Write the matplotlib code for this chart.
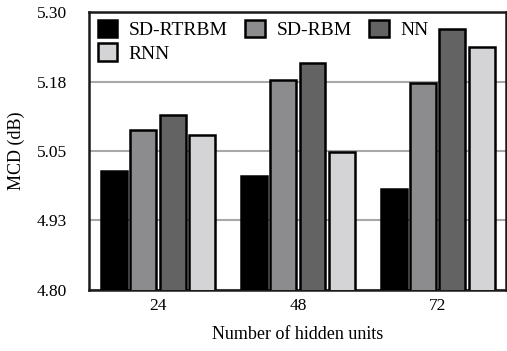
import numpy as np
import matplotlib
matplotlib.use("Agg")
import matplotlib.pyplot as plt

plt.rcParams['font.family'] = ['Liberation Serif', 'DejaVu Serif']

# data
hidden = ["24", "48", "72"]
series = ["SD-RTRBM", "SD-RBM", "NN", "RNN"]
sd_rtrbm = [5.014, 5.005, 4.982]
sd_rbm = [5.088, 5.178, 5.172]
nn = [5.115, 5.209, 5.270]
rnn = [5.078, 5.049, 5.237]
yticks = [4.80, 4.925, 5.05, 5.175, 5.30]
ytick_labels = ["4.80", "4.93", "5.05", "5.18", "5.30"]

colors = ["#000000", "#8c8c8e", "#636363", "#d4d4d6"]

fig = plt.figure(figsize=(5.07, 3.51), dpi=100)
ax = fig.add_axes([0.1755, 0.1738, 0.822, 0.792])

x = np.arange(len(hidden))
pitch = 0.21
w = 0.185
bars = []
for j, vals in enumerate([sd_rtrbm, sd_rbm, nn, rnn]):
    b = ax.bar(x + (j - 1.5) * pitch, vals, w, bottom=0, color=colors[j],
               edgecolor="black", linewidth=1.8, label=series[j], zorder=3)
    bars.append(b)

ax.set_ylim(4.80, 5.30)
ax.set_xlim(-0.493, 2.486)
ax.set_yticks(yticks)
ax.set_yticklabels(ytick_labels)
ax.set_xticks(x)
ax.set_xticklabels(hidden)
ax.tick_params(axis="both", length=0, labelsize=12.5)
ax.tick_params(axis="y", pad=16)
ax.tick_params(axis="x", pad=5.5)
ax.yaxis.grid(True, color="#a8a8a8", linewidth=1.5, zorder=0)
ax.set_axisbelow(True)
for s in ax.spines.values():
    s.set_linewidth(1.8)
    s.set_color("#1a1a1a")

ax.set_xlabel("Number of hidden units", fontsize=13, labelpad=9)
ax.set_ylabel("MCD (dB)", fontsize=13, labelpad=8)

# legend order so that rows read SD-RTRBM, SD-RBM, NN / RNN
order = [0, 3, 1, 2]
leg = ax.legend([bars[i] for i in order], [series[i] for i in order],
                ncol=3, loc="upper left", frameon=False, fontsize=14,
                handlelength=1.0, handleheight=1.0, handletextpad=0.6,
                columnspacing=0.9, labelspacing=0.2,
                borderaxespad=0.3, bbox_to_anchor=(-0.012, 1.02))

fig.savefig("out.png", dpi=100)
